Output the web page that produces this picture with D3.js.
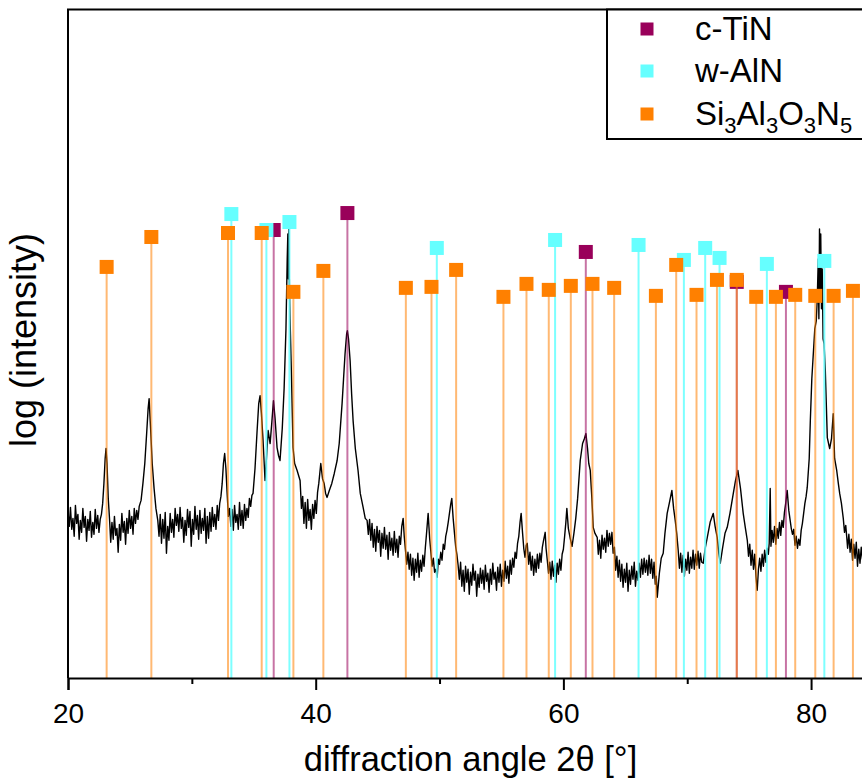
<!DOCTYPE html>
<html>
<head>
<meta charset="utf-8">
<script src="https://cdnjs.cloudflare.com/ajax/libs/d3/7.8.5/d3.min.js"></script>
<style>
    body { margin: 0; background: #fff; overflow: hidden; }
    svg { display: block; font-family: "Liberation Sans", Arial, sans-serif; }
</style>
</head>
<body>
<div id="chart"></div>
<script>
// measured pattern: [2theta, log intensity (arb. units)]
var scan = [
    [20.0,16.6],[20.1,15.2],[20.2,17.1],[20.3,14.9],[20.4,16.0],[20.5,14.2],[20.6,17.3],[20.7,15.5],
    [20.8,16.4],[20.9,13.9],[21.0,15.8],[21.1,14.6],[21.2,17.0],[21.3,15.1],[21.4,16.2],[21.5,13.7],
    [21.6,15.9],[21.7,14.8],[21.8,16.7],[21.9,14.1],[22.0,15.6],[22.1,14.4],[22.2,16.9],[22.3,15.0],
    [22.4,16.3],[22.5,14.6],[22.6,15.9],[22.7,16.4],[22.8,17.5],[22.9,19.5],[23.0,22.0],[23.07,23.0],
    [23.15,21.5],[23.25,18.0],[23.35,16.0],[23.45,13.6],[23.55,15.6],[23.65,13.9],[23.75,16.2],[23.85,14.3],
    [23.95,15.0],[24.05,12.6],[24.15,15.4],[24.25,13.8],[24.35,16.5],[24.45,14.6],[24.55,15.7],[24.65,13.4],
    [24.75,16.0],[24.85,14.5],[24.95,16.8],[25.05,15.0],[25.15,16.2],[25.25,14.4],[25.35,17.0],[25.45,15.5],
    [25.55,16.8],[25.65,15.9],[25.75,17.2],[25.9,17.8],[26.05,19.5],[26.2,21.5],[26.35,24.5],[26.47,27.0],
    [26.55,28.0],[26.65,25.5],[26.8,21.5],[26.95,19.0],[27.1,17.0],[27.25,15.8],[27.35,14.2],[27.45,16.4],
    [27.55,13.5],[27.65,15.9],[27.75,14.0],[27.85,16.6],[27.95,12.5],[28.05,15.2],[28.15,13.8],[28.25,16.5],
    [28.35,14.6],[28.45,15.9],[28.55,14.1],[28.65,17.0],[28.75,15.3],[28.85,16.4],[28.95,14.7],[29.05,17.1],
    [29.15,15.0],[29.25,16.1],[29.35,13.6],[29.45,15.8],[29.55,14.3],[29.65,16.9],[29.75,15.1],[29.85,16.7],
    [29.95,13.2],[30.05,15.9],[30.15,14.4],[30.25,17.2],[30.35,14.9],[30.45,16.3],[30.55,13.9],[30.65,16.8],
    [30.75,14.5],[30.85,16.0],[30.95,14.8],[31.05,17.0],[31.15,13.5],[31.25,16.2],[31.35,14.0],[31.45,16.6],
    [31.55,14.7],[31.65,17.1],[31.75,15.2],[31.85,16.4],[31.95,14.9],[32.05,17.3],[32.15,15.8],[32.25,17.5],
    [32.35,18.2],[32.45,19.5],[32.55,21.5],[32.65,22.5],[32.75,21.0],[32.85,18.5],[32.95,16.2],[33.05,17.0],
    [33.15,15.2],[33.25,16.9],[33.35,14.8],[33.45,17.3],[33.55,15.6],[33.65,16.4],[33.75,14.9],[33.85,17.6],
    [33.95,15.3],[34.05,16.8],[34.15,15.0],[34.25,17.4],[34.35,15.8],[34.45,17.0],[34.55,16.1],[34.65,18.0],
    [34.75,17.2],[34.85,18.3],[34.94,18.5],[35.1,21.0],[35.27,24.8],[35.4,27.5],[35.51,28.3],[35.62,26.5],
    [35.75,23.8],[35.91,19.8],[36.05,22.5],[36.16,24.8],[36.32,23.5],[36.45,25.5],[36.59,27.8],[36.72,26.0],
    [36.88,23.1],[37.0,22.3],[37.12,21.8],[37.3,25.0],[37.45,29.0],[37.6,35.0],[37.7,42.0],[37.75,44.5],
    [37.79,40.0],[37.83,45.0],[37.88,39.0],[37.93,36.0],[38.05,30.0],[38.17,23.1],[38.3,21.5],[38.5,20.8],
    [38.74,19.8],[38.85,17.0],[38.95,18.2],[39.05,15.5],[39.15,17.6],[39.25,15.0],[39.35,17.9],[39.45,15.8],
    [39.55,16.9],[39.65,14.9],[39.75,17.4],[39.85,16.0],[39.95,17.8],[40.05,16.5],[40.15,18.6],[40.25,19.5],
    [40.41,21.5],[40.55,20.0],[40.68,19.5],[40.8,18.5],[40.92,18.1],[41.1,18.8],[41.3,19.5],[41.5,20.5],
    [41.73,21.8],[41.9,23.5],[42.13,27.5],[42.25,30.0],[42.37,32.5],[42.5,34.5],[42.56,34.8],[42.65,34.0],
    [42.78,31.8],[42.9,28.5],[43.02,25.8],[43.2,23.0],[43.42,20.8],[43.6,18.5],[43.83,17.1],[44.0,16.0],
    [44.15,15.8],[44.25,14.4],[44.35,15.9],[44.45,13.8],[44.55,15.5],[44.65,13.1],[44.75,14.9],[44.85,12.7],
    [44.95,15.2],[45.05,13.6],[45.15,14.8],[45.25,12.2],[45.35,14.5],[45.45,13.0],[45.55,15.1],[45.65,12.9],
    [45.75,14.3],[45.85,11.9],[45.95,14.6],[46.05,12.8],[46.15,14.0],[46.25,12.3],[46.35,14.7],[46.45,12.6],
    [46.55,13.9],[46.65,12.1],[46.75,14.2],[46.85,13.4],[46.95,15.2],[47.06,16.0],[47.15,14.2],[47.25,12.8],
    [47.35,11.4],[47.45,12.6],[47.55,10.9],[47.65,12.4],[47.75,10.3],[47.85,12.0],[47.95,9.8],[48.05,11.9],
    [48.15,10.6],[48.25,12.5],[48.35,10.1],[48.45,11.8],[48.55,10.7],[48.65,12.3],[48.75,11.2],[48.85,13.0],
    [48.95,14.5],[49.08,16.5],[49.2,14.0],[49.3,12.6],[49.4,11.2],[49.5,12.0],[49.6,10.6],[49.7,10.9],
    [49.81,10.1],[49.9,11.9],[50.0,11.4],[50.1,12.6],[50.2,11.8],[50.3,13.4],[50.4,12.9],[50.5,14.2],
    [50.6,14.8],[50.7,15.6],[50.8,16.5],[50.9,17.4],[50.99,18.0],[51.1,16.0],[51.2,14.6],[51.3,13.2],
    [51.4,12.4],[51.5,11.3],[51.6,9.9],[51.7,11.6],[51.8,9.2],[51.9,10.8],[52.0,8.7],[52.1,11.2],
    [52.2,9.6],[52.3,10.9],[52.4,8.4],[52.5,10.6],[52.6,9.3],[52.7,11.4],[52.8,9.8],[52.9,10.7],
    [53.0,8.2],[53.1,10.4],[53.2,9.1],[53.3,11.0],[53.4,9.5],[53.5,10.8],[53.6,8.9],[53.7,11.3],
    [53.8,9.7],[53.9,10.5],[54.0,8.6],[54.1,10.9],[54.2,9.4],[54.3,11.5],[54.4,9.9],[54.5,10.6],
    [54.6,8.8],[54.7,11.1],[54.8,9.6],[54.9,11.4],[55.0,9.2],[55.1,10.8],[55.2,9.7],[55.3,11.7],
    [55.4,10.0],[55.5,11.2],[55.6,9.5],[55.7,11.8],[55.8,10.4],[55.9,12.0],[56.0,11.1],[56.1,12.6],
    [56.2,12.0],[56.3,13.5],[56.4,14.2],[56.5,15.6],[56.59,16.5],[56.7,14.6],[56.8,13.0],[56.9,12.1],
    [57.0,13.3],[57.08,13.5],[57.2,11.4],[57.3,12.6],[57.4,10.8],[57.5,12.2],[57.6,10.3],[57.7,11.9],
    [57.8,10.6],[57.9,12.4],[58.0,11.0],[58.1,12.5],[58.2,11.6],[58.3,13.1],[58.4,13.8],[58.53,14.6],
    [58.6,13.0],[58.7,11.8],[58.8,10.5],[58.9,11.6],[59.0,9.9],[59.1,11.7],[59.2,10.2],[59.3,11.3],
    [59.4,9.6],[59.5,11.5],[59.6,10.4],[59.7,11.9],[59.8,10.8],[59.9,12.4],[60.0,12.9],[60.1,14.2],
    [60.2,15.6],[60.28,17.0],[60.4,15.0],[60.55,14.0],[60.7,13.2],[60.85,14.5],[61.0,16.0],[61.15,18.0],
    [61.36,21.8],[61.55,23.5],[61.7,24.0],[61.82,24.5],[61.95,23.0],[62.05,21.5],[62.17,20.8],[62.3,18.0],
    [62.41,15.1],[62.55,14.5],[62.73,14.1],[62.82,12.4],[62.92,13.8],[63.02,12.0],[63.12,14.3],[63.22,12.9],
    [63.32,14.0],[63.42,12.6],[63.52,14.8],[63.62,13.2],[63.72,14.5],[63.82,13.4],[63.92,14.6],[64.02,12.5],
    [64.12,13.1],[64.22,10.8],[64.32,12.2],[64.42,10.1],[64.52,11.8],[64.62,9.7],[64.72,11.4],[64.82,9.1],
    [64.92,10.9],[65.02,9.6],[65.12,11.5],[65.22,8.7],[65.32,10.8],[65.42,9.4],[65.52,11.2],[65.62,9.9],
    [65.72,11.6],[65.82,9.2],[65.92,10.7],[66.02,9.8],[66.12,11.5],[66.22,10.1],[66.32,11.9],[66.42,10.4],
    [66.52,12.0],[66.62,10.6],[66.72,11.8],[66.82,10.3],[66.92,12.3],[67.02,10.5],[67.12,11.9],[67.22,10.0],
    [67.32,11.6],[67.42,9.4],[67.5,10.2],[67.58,8.1],[67.75,10.5],[67.9,12.0],[68.06,12.5],[68.2,14.5],
    [68.38,16.5],[68.55,17.5],[68.76,18.8],[68.9,17.0],[69.03,15.8],[69.15,14.5],[69.27,12.8],[69.37,11.0],
    [69.47,12.5],[69.57,10.6],[69.67,12.3],[69.77,10.2],[69.87,11.9],[69.97,10.8],[70.07,12.6],[70.17,10.5],
    [70.27,12.1],[70.37,11.0],[70.47,12.8],[70.57,10.9],[70.67,12.4],[70.77,11.3],[70.87,12.7],[70.97,11.0],
    [71.07,12.5],[71.17,11.6],[71.29,11.5],[71.45,13.0],[71.62,14.1],[71.85,15.6],[72.1,16.5],[72.25,15.2],
    [72.42,14.1],[72.55,12.5],[72.67,11.5],[72.85,13.0],[73.05,14.5],[73.23,15.1],[73.45,16.5],[73.72,18.5],
    [73.9,19.8],[74.09,20.8],[74.3,19.0],[74.52,16.5],[74.7,15.0],[74.85,13.8],[74.95,12.2],[75.05,13.4],
    [75.15,11.3],[75.25,12.8],[75.35,10.9],[75.45,12.4],[75.55,10.2],[75.65,8.8],[75.75,10.9],[75.85,12.0],
    [75.95,10.7],[76.05,12.4],[76.15,11.2],[76.25,12.8],[76.35,11.6],[76.45,13.0],[76.55,12.4],[76.62,13.5],
    [76.7,19.0],[76.76,13.2],[76.85,14.8],[76.95,13.6],[77.05,15.2],[77.15,13.4],[77.25,15.0],[77.35,14.0],
    [77.45,15.6],[77.55,14.3],[77.65,15.8],[77.75,15.1],[77.85,16.6],[77.95,17.5],[78.07,18.8],[78.2,16.8],
    [78.3,15.9],[78.4,15.0],[78.5,14.4],[78.6,14.9],[78.7,13.3],[78.8,14.2],[78.9,13.0],[79.0,13.9],
    [79.1,13.3],[79.2,14.8],[79.3,15.5],[79.4,16.5],[79.5,17.5],[79.6,18.2],[79.69,19.1],[79.85,22.0],
    [79.94,25.8],[80.06,30.0],[80.18,32.5],[80.3,35.0],[80.42,35.8],[80.5,38.0],[80.58,42.0],[80.63,36.0],
    [80.68,45.0],[80.73,39.0],[80.78,44.5],[80.84,37.0],[80.9,41.0],[80.97,34.0],[81.05,33.5],[81.15,30.8],
    [81.31,24.1],[81.5,23.0],[81.65,24.0],[81.79,26.5],[81.9,22.0],[82.07,20.8],[82.2,19.5],[82.31,18.5],
    [82.45,17.5],[82.6,16.0],[82.7,14.6],[82.8,15.3],[82.88,14.1],[82.95,13.0],[83.05,14.4],[83.15,12.6],
    [83.25,13.9],[83.35,11.8],[83.45,13.4],[83.55,12.0],[83.65,13.6],[83.75,11.2],[83.85,12.9],[83.95,11.5],
    [84.05,13.1],[84.15,11.9],[84.25,12.7],[84.35,11.3],[84.45,12.8],[84.55,11.6],[84.65,13.0],[84.75,11.8],
    [84.85,12.6],[85.0,12.0]
];

// reference reflections: [2theta, stick height]
var tinPeaks = [[36.61,44.9],[42.56,46.6],[61.81,42.7],[74.0,39.7],[77.97,38.7]];
var alnPeaks = [[33.19,46.5],[36.02,44.9],[37.88,45.7],[49.78,43.1],[59.33,43.9],[66.07,43.4],
    [69.73,41.9],[71.45,43.1],[72.61,42.1],[76.43,41.5],[81.07,41.8]];
var sialonPeaks = [[23.12,41.2],[26.73,44.2],[32.92,44.6],[35.64,44.6],[38.2,38.7],[40.62,40.8],
    [47.28,39.1],[49.35,39.2],[51.34,40.9],[55.16,38.2],[57.02,39.5],[58.82,38.9],[60.6,39.3],
    [62.35,39.5],[64.1,39.1],[67.47,38.3],[69.11,41.4],[70.75,38.4],[72.4,39.9],[74.0,39.9],
    [75.57,38.2],[77.16,38.2],[78.72,38.4],[80.34,38.3],[81.82,38.3],[83.38,38.8]];

var xTicks = [20, 40, 60, 80];
var xMinorTicks = [30, 50, 70];

var phaseNames = [[["c-TiN", 0]], [["w-AlN", 0]],
    [["Si", 0], ["3", 1], ["Al", 0], ["3", 1], ["O", 0], ["3", 1], ["N", 0], ["5", 1]]];
var phaseColors = ["#99005a", "#66ffff", "#ff8000"];

var cfg = {
    w: 862, h: 782,
    left: 68, right: 873, top: 9.5, bottom: 678,
    marker: 14
};

var x = d3.scaleLinear().domain([20, 85]).range([cfg.left, cfg.right]);
var y = d3.scaleLinear().domain([0, 67]).range([cfg.bottom, cfg.top]);

var svg = d3.select("#chart").append("svg")
    .attr("width", cfg.w)
    .attr("height", cfg.h);

svg.append("defs").append("clipPath").attr("id", "plotclip")
    .append("rect")
    .attr("x", cfg.left).attr("y", cfg.top)
    .attr("width", cfg.right - cfg.left).attr("height", cfg.bottom - cfg.top);

// pattern
var line = d3.line()
    .x(function(d) { return x(d[0]); })
    .y(function(d) { return y(d[1]); });

svg.append("path")
    .datum(scan)
    .attr("clip-path", "url(#plotclip)")
    .attr("fill", "none")
    .attr("stroke", "#000")
    .attr("stroke-width", 1.4)
    .attr("stroke-linejoin", "round")
    .attr("d", line);

// sticks
var phases = [tinPeaks, alnPeaks, sialonPeaks];
phases.forEach(function(peaks, i) {
    var g = svg.append("g").attr("clip-path", "url(#plotclip)");
    g.selectAll("line")
        .data(peaks)
        .enter()
        .append("line")
        .attr("x1", function(d) { return x(d[0]); })
        .attr("x2", function(d) { return x(d[0]); })
        .attr("y1", y(0))
        .attr("y2", function(d) { return y(d[1]); })
        .attr("stroke", phaseColors[i])
        .attr("stroke-opacity", i === 1 ? 0.85 : 0.55)
        .attr("stroke-width", 2);
    g.selectAll("rect")
        .data(peaks)
        .enter()
        .append("rect")
        .attr("x", function(d) { return x(d[0]) - cfg.marker / 2; })
        .attr("y", function(d) { return y(d[1]) - cfg.marker / 2; })
        .attr("width", cfg.marker)
        .attr("height", cfg.marker)
        .attr("fill", phaseColors[i]);
});

// frame
svg.append("path")
    .attr("d", "M" + cfg.left + "," + cfg.bottom + "V" + cfg.top + "H" + cfg.right + "V" + cfg.bottom)
    .attr("fill", "none")
    .attr("stroke", "#000")
    .attr("stroke-width", 2);

// x axis
var xAxis = d3.axisBottom(x).tickValues(xTicks).tickSize(12).tickPadding(13);
var xMinor = d3.axisBottom(x).tickValues(xMinorTicks).tickSize(6).tickFormat("");

svg.append("g")
    .attr("transform", "translate(0," + cfg.bottom + ")")
    .call(xAxis)
    .call(function(g) {
        g.select(".domain").attr("stroke-width", 2);
        g.selectAll(".tick line").attr("stroke-width", 2);
        g.selectAll(".tick text")
            .attr("font-size", 28)
            .attr("font-family", "'Liberation Sans', Arial, sans-serif")
            .attr("fill", "#000");
    });

svg.append("g")
    .attr("transform", "translate(0," + cfg.bottom + ")")
    .call(xMinor)
    .call(function(g) {
        g.select(".domain").remove();
        g.selectAll(".tick line").attr("stroke-width", 2);
    });

// axis titles
svg.append("text")
    .attr("x", (cfg.left + cfg.right) / 2)
    .attr("y", 771)
    .attr("text-anchor", "middle")
    .attr("font-size", 34.5)
    .text("diffraction angle 2θ [°]");

svg.append("text")
    .attr("transform", "translate(36,340) rotate(-90)")
    .attr("text-anchor", "middle")
    .attr("font-size", 36)
    .text("log (intensity)");

// legend
var legend = svg.append("g");
legend.append("rect")
    .attr("x", 607).attr("y", cfg.top)
    .attr("width", cfg.right - 607).attr("height", 139 - cfg.top)
    .attr("fill", "#fff")
    .attr("stroke", "#000")
    .attr("stroke-width", 2);

var rowY = [29, 71, 114];
phaseNames.forEach(function(parts, i) {
    legend.append("rect")
        .attr("x", 640.5).attr("y", rowY[i] - 6.5)
        .attr("width", 13).attr("height", 13)
        .attr("fill", phaseColors[i]);
    var t = legend.append("text")
        .attr("x", 695)
        .attr("y", rowY[i] + 11)
        .attr("font-size", 33);
    parts.forEach(function(p) {
        var s = t.append("tspan").text(p[0]);
        if (p[1]) s.attr("font-size", 22).attr("dy", 8);
        else s.attr("dy", t.selectAll("tspan").size() > 1 ? -8 : 0);
    });
});
</script>
</body>
</html>
